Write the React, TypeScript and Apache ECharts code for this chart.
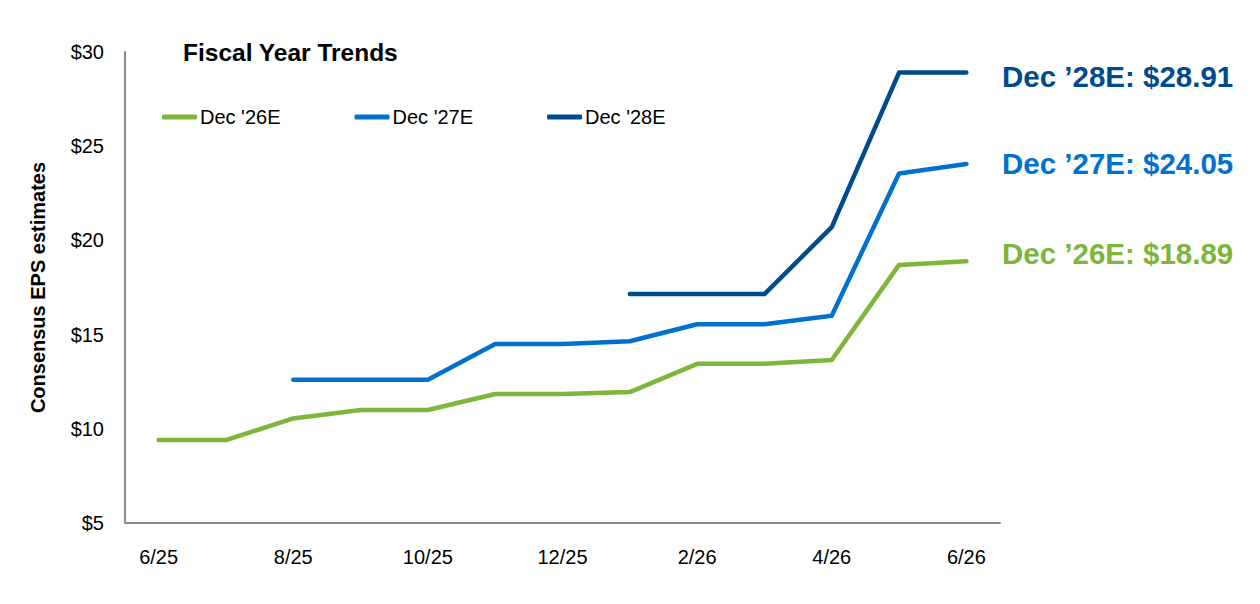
import React, { useEffect, useRef } from "react";
import * as echarts from "echarts";

const months = ["6/25", "7/25", "8/25", "9/25", "10/25", "11/25", "12/25", "1/26", "2/26", "3/26", "4/26", "5/26", "6/26"];
const dec26 = [9.4, 9.4, 10.55, 11.0, 11.0, 11.85, 11.85, 11.95, 13.45, 13.45, 13.65, 18.7, 18.89];
const dec27 = [null, null, 12.6, 12.6, 12.6, 14.5, 14.5, 14.65, 15.55, 15.55, 16.0, 23.55, 24.05];
const dec28 = [null, null, null, null, null, null, null, 17.15, 17.15, 17.15, 20.7, 28.91, 28.91];
const seriesNames = ["Dec '26E", "Dec '27E", "Dec '28E"];
const endLabels = ["Dec \u201926E: $18.89", "Dec \u201927E: $24.05", "Dec \u201928E: $28.91"];
const colors = ["#7DB63A", "#0071CE", "#004B8D"];

const FONT = "'Liberation Sans', Arial, sans-serif";

export default function App() {
  const ref = useRef<HTMLDivElement>(null);
  useEffect(() => {
    if (!ref.current) return;
    const chart = echarts.init(ref.current, undefined, { renderer: "svg" });
    const data = [dec26, dec27, dec28];
    const labelY = [255, 165, 78];
    chart.setOption({
      animation: false,
      backgroundColor: "#ffffff",
      textStyle: { fontFamily: FONT },
      grid: { left: 125, right: 260, top: 52, bottom: 81 },
      legend: {
        left: 162,
        top: 107,
        padding: 0,
        icon: "roundRect",
        itemWidth: 35,
        itemHeight: 5,
        itemGap: 74,
        data: seriesNames,
        textStyle: { fontFamily: FONT, fontSize: 20, color: "#000", padding: [0, 0, 0, -2] },
      },
      graphic: [
        {
          type: "text",
          left: 183,
          top: 40,
          style: { text: "Fiscal Year Trends", font: `bold 24.5px ${FONT}`, fill: "#000" },
        },
        ...endLabels.map((t, i) => ({
          type: "text",
          left: 1002,
          top: labelY[i] - 17,
          style: { text: t, font: `bold 29.5px ${FONT}`, fill: colors[i] },
        })),
      ],
      xAxis: {
        type: "category",
        data: months,
        boundaryGap: true,
        axisLine: { lineStyle: { color: "#8c8c8c", width: 2 } },
        axisTick: { show: false },
        axisLabel: { interval: 1, fontSize: 20, color: "#000", margin: 24, fontFamily: FONT },
      },
      yAxis: {
        type: "value",
        min: 5,
        max: 30,
        interval: 5,
        name: "Consensus EPS estimates",
        nameLocation: "middle",
        nameGap: 77,
        nameTextStyle: { fontSize: 20, fontWeight: "bold", color: "#000", fontFamily: FONT },
        splitLine: { show: false },
        axisLine: { show: true, lineStyle: { color: "#8c8c8c", width: 2 } },
        axisTick: { show: false },
        axisLabel: { formatter: (v: number) => "$" + v, fontSize: 20, color: "#000", margin: 21, fontFamily: FONT },
      },
      series: data.map((d, i) => ({
        name: seriesNames[i],
        type: "line",
        data: d,
        symbol: "none",
        lineStyle: { color: colors[i], width: 4.5, cap: "round", join: "round" },
        itemStyle: { color: colors[i] },
      })),
    });
    return () => chart.dispose();
  }, []);
  return <div ref={ref} style={{ position: "absolute", left: 0, top: 0, width: 1260, height: 604 }} />;
}
